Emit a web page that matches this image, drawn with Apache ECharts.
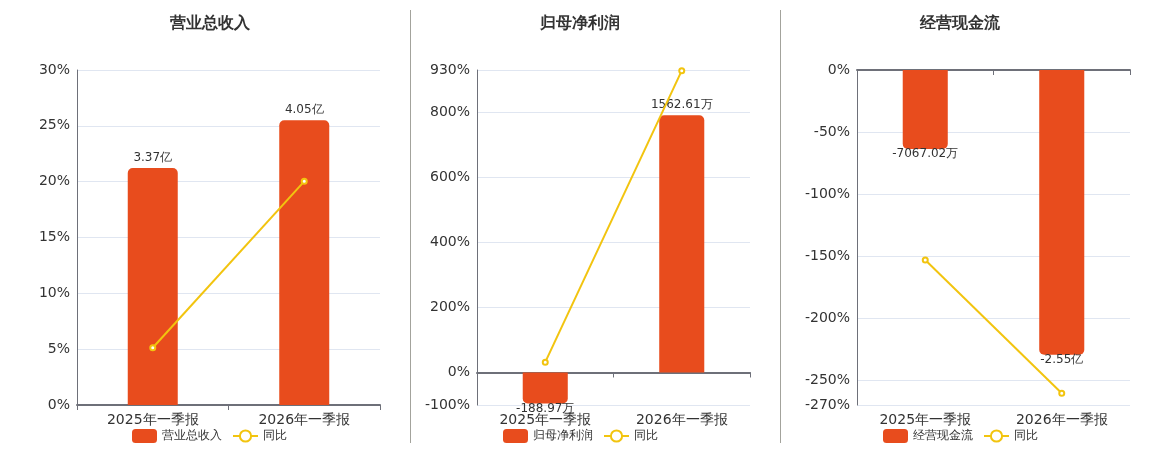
<!DOCTYPE html>
<html>
<head>
<meta charset="utf-8">
<script src="https://cdn.jsdelivr.net/npm/echarts@6/dist/echarts.min.js"></script>
<style>
html,body{margin:0;padding:0;background:#fff;}
#c{width:1160px;height:450px;}
</style>
</head>
<body>
<div id="c"></div>
<script>
// ---- data ----
const categories = ['2025年一季报', '2026年一季报'];
const titles = ['营业总收入', '归母净利润', '经营现金流'];
// bar values in 万元
const revenue = [33700, 40500];
const netProfit = [-188.97, 1562.61];
const cashFlow = [-7067.02, -25500];
// 同比 (%)
const revenueYoY = [5.13, 20.03];
const netProfitYoY = [31.7, 928];
const cashFlowYoY = [-153.1, -260.6];
// percent axis ranges
const pctMin = [0, -100, -270];
const pctMax = [30, 930, 0];

const barSets = [revenue, netProfit, cashFlow];
const yoySets = [revenueYoY, netProfitYoY, cashFlowYoY];

const BAR_COLOR = '#E84C1D';
const LINE_COLOR = '#F2C40F';
const FONT = 'DejaVu Sans';

const grids = [
  {left: 77, right: 780, top: 70, bottom: 45},
  {left: 477, right: 410, top: 70, bottom: 45},
  {left: 857, right: 30, top: 70, bottom: 45}
];
const centers = [205, 575, 955];
const legendLefts = [127, 498, 878];

function fmtMoney(v) {
  if (Math.abs(v) >= 10000) return (v / 10000).toFixed(2) + '亿';
  return v.toFixed(2) + '万';
}

const option = {
  animation: false,
  textStyle: {fontFamily: FONT},
  title: [],
  legend: [],
  grid: grids,
  xAxis: [],
  yAxis: [],
  series: [],
  graphic: [
    {type: 'line', shape: {x1: 410.5, y1: 10, x2: 410.5, y2: 443}, style: {stroke: '#A3A39C', lineWidth: 1}},
    {type: 'line', shape: {x1: 780.5, y1: 10, x2: 780.5, y2: 443}, style: {stroke: '#A3A39C', lineWidth: 1}}
  ]
};

for (let i = 0; i < 3; i++) {
  const bars = barSets[i];
  const maxAbsBar = Math.max.apply(null, bars.map(Math.abs));
  const maxAbsPct = Math.max(Math.abs(pctMin[i]), Math.abs(pctMax[i]));
  const k = maxAbsBar / (0.85 * maxAbsPct);

  option.title.push({
    text: titles[i], left: centers[i], top: 11, textAlign: 'center',
    textStyle: {fontSize: 16, fontWeight: 'bold', color: '#333', fontFamily: FONT}
  });
  option.legend.push({
    data: [titles[i], '同比'], left: legendLefts[i], top: 424, orient: 'horizontal',
    itemWidth: 25, itemHeight: 14, itemGap: 10,
    textStyle: {fontSize: 12, color: '#333', fontFamily: FONT}
  });
  // axis line on zero (no labels)
  option.xAxis.push({
    type: 'category', data: categories, gridIndex: i,
    axisLine: {onZero: true, lineStyle: {color: '#6E7079', width: 2}},
    axisTick: {show: true, lineStyle: {color: '#6E7079'}},
    axisLabel: {show: false}, splitLine: {show: false}
  });
  // bottom labels axis
  option.xAxis.push({
    type: 'category', data: categories, gridIndex: i, position: 'bottom',
    axisLine: {show: false, onZero: false}, axisTick: {show: false},
    axisLabel: {show: true, fontSize: 14, color: '#333', margin: 8, fontFamily: FONT},
    splitLine: {show: false}
  });
  // percent axis
  option.yAxis.push({
    type: 'value', gridIndex: i, min: pctMin[i], max: pctMax[i],
    axisLine: {show: true, lineStyle: {color: '#6E7079'}},
    axisTick: {show: false},
    axisLabel: {formatter: '{value}%', fontSize: 14, color: '#333', margin: 7, fontFamily: FONT},
    splitLine: {show: true, lineStyle: {color: '#E0E6F1'}}
  });
  // hidden bar axis
  option.yAxis.push({
    type: 'value', gridIndex: i, min: pctMin[i] * k, max: pctMax[i] * k,
    show: false, splitLine: {show: false}
  });

  option.series.push({
    name: titles[i], type: 'bar', xAxisIndex: 2 * i, yAxisIndex: 2 * i + 1,
    barWidth: '33%',
    itemStyle: {color: BAR_COLOR},
    data: bars.map(v => ({
      value: v,
      itemStyle: {borderRadius: v >= 0 ? [5, 5, 0, 0] : [0, 0, 5, 5]},
      label: {
        show: true, position: v >= 0 ? 'top' : 'bottom', distance: v >= 0 ? 4 : -1,
        formatter: () => fmtMoney(v), fontSize: 12, color: '#333', fontFamily: FONT
      }
    })),
    z: 2
  });
  option.series.push({
    name: '同比', type: 'line', xAxisIndex: 2 * i, yAxisIndex: 2 * i,
    data: yoySets[i], symbol: 'emptyCircle', symbolSize: 5,
    lineStyle: {color: LINE_COLOR, width: 2},
    itemStyle: {color: LINE_COLOR, borderWidth: 2},
    z: 3
  });
}

const chart = echarts.init(document.getElementById('c'));
chart.setOption(option);
</script>
</body>
</html>
